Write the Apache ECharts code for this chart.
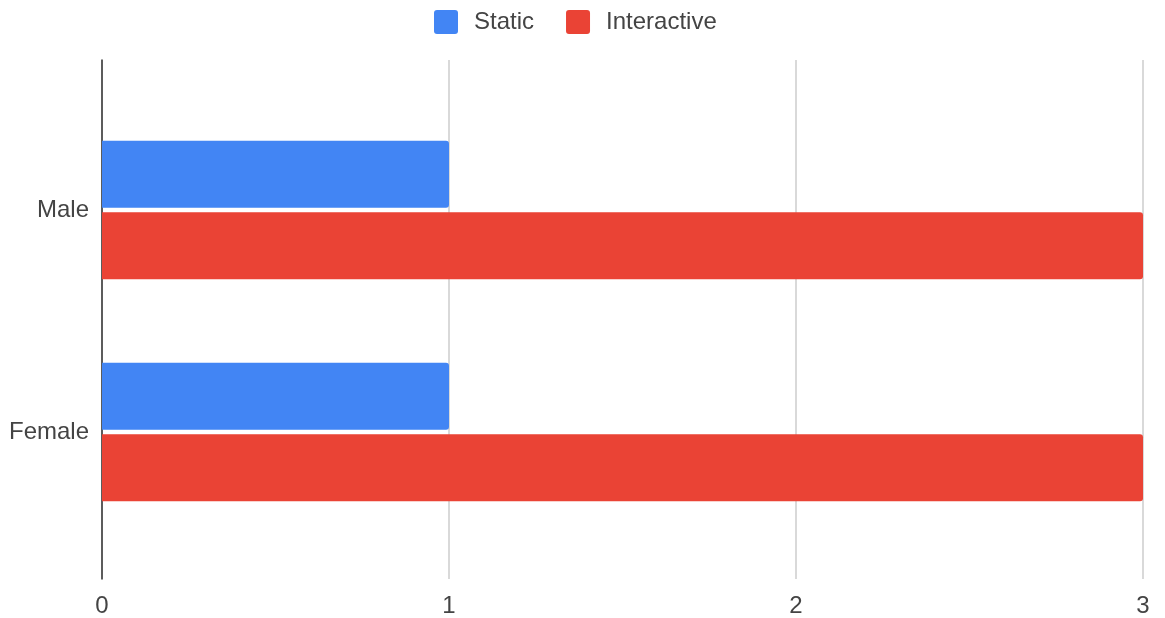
<!DOCTYPE html>
<html>
<head>
<meta charset="utf-8">
<script src="https://cdn.jsdelivr.net/npm/echarts@6/dist/echarts.min.js"></script>
<style>
html,body{margin:0;padding:0;background:#fff;}
#chart{width:1165px;height:618px;}
</style>
</head>
<body>
<div id="chart"></div>
<script>
const categories = ['Male', 'Female'];
const staticValues = [1, 1];
const interactiveValues = [3, 3];
const xTicks = { min: 0, max: 3, interval: 1 };

const FONT = 'Arial, "Liberation Sans", sans-serif';
const ICON = 'path://M3,0H21A3,3 0 0 1 24,3V21A3,3 0 0 1 21,24H3A3,3 0 0 1 0,21V3A3,3 0 0 1 3,0Z';
const chart = echarts.init(document.getElementById('chart'));
chart.setOption({
  animation: false,
  legend: {
    top: 5,
    left: 429,
    itemWidth: 24,
    itemHeight: 24,
    itemGap: 32,
    icon: ICON,
    textStyle: { fontFamily: FONT, fontSize: 24, color: '#444', padding: [0, 0, 0, 11] },
    data: ['Static', 'Interactive']
  },
  grid: [
    { left: 102, right: 22, top: 60, bottom: 38, containLabel: false },
    { left: 102, right: 22, top: 99, bottom: 75, containLabel: false }
  ],
  xAxis: [
    {
      gridIndex: 0, type: 'value', min: xTicks.min, max: xTicks.max, interval: xTicks.interval,
      axisLine: { show: false }, axisTick: { show: false },
      splitLine: { show: true, lineStyle: { color: '#cccccc', width: 1.5 } },
      axisLabel: { fontFamily: FONT, fontSize: 24, color: '#444', margin: 15 }
    },
    {
      gridIndex: 1, type: 'value', min: xTicks.min, max: xTicks.max, interval: xTicks.interval,
      show: false, splitLine: { show: false }
    }
  ],
  yAxis: [
    {
      gridIndex: 0, type: 'value', min: 0, max: 1,
      axisLine: { show: true, lineStyle: { color: '#333', width: 1.5 } },
      axisTick: { show: false }, axisLabel: { show: false }, splitLine: { show: false }
    },
    {
      gridIndex: 1, type: 'category', data: categories, inverse: true,
      axisLine: { show: false }, axisTick: { show: false }, splitLine: { show: false },
      axisLabel: { fontFamily: FONT, fontSize: 24, color: '#444', margin: 13, padding: [4, 0, 0, 0] }
    }
  ],
  series: [
    {
      name: 'Static', type: 'bar', xAxisIndex: 1, yAxisIndex: 1,
      data: staticValues, barWidth: 67, barGap: '7%',
      itemStyle: { color: '#4285F4', borderRadius: [0, 3, 3, 0] }
    },
    {
      name: 'Interactive', type: 'bar', xAxisIndex: 1, yAxisIndex: 1,
      data: interactiveValues, barWidth: 67, barGap: '7%',
      itemStyle: { color: '#EA4335', borderRadius: [0, 3, 3, 0] }
    }
  ]
});
</script>
</body>
</html>
